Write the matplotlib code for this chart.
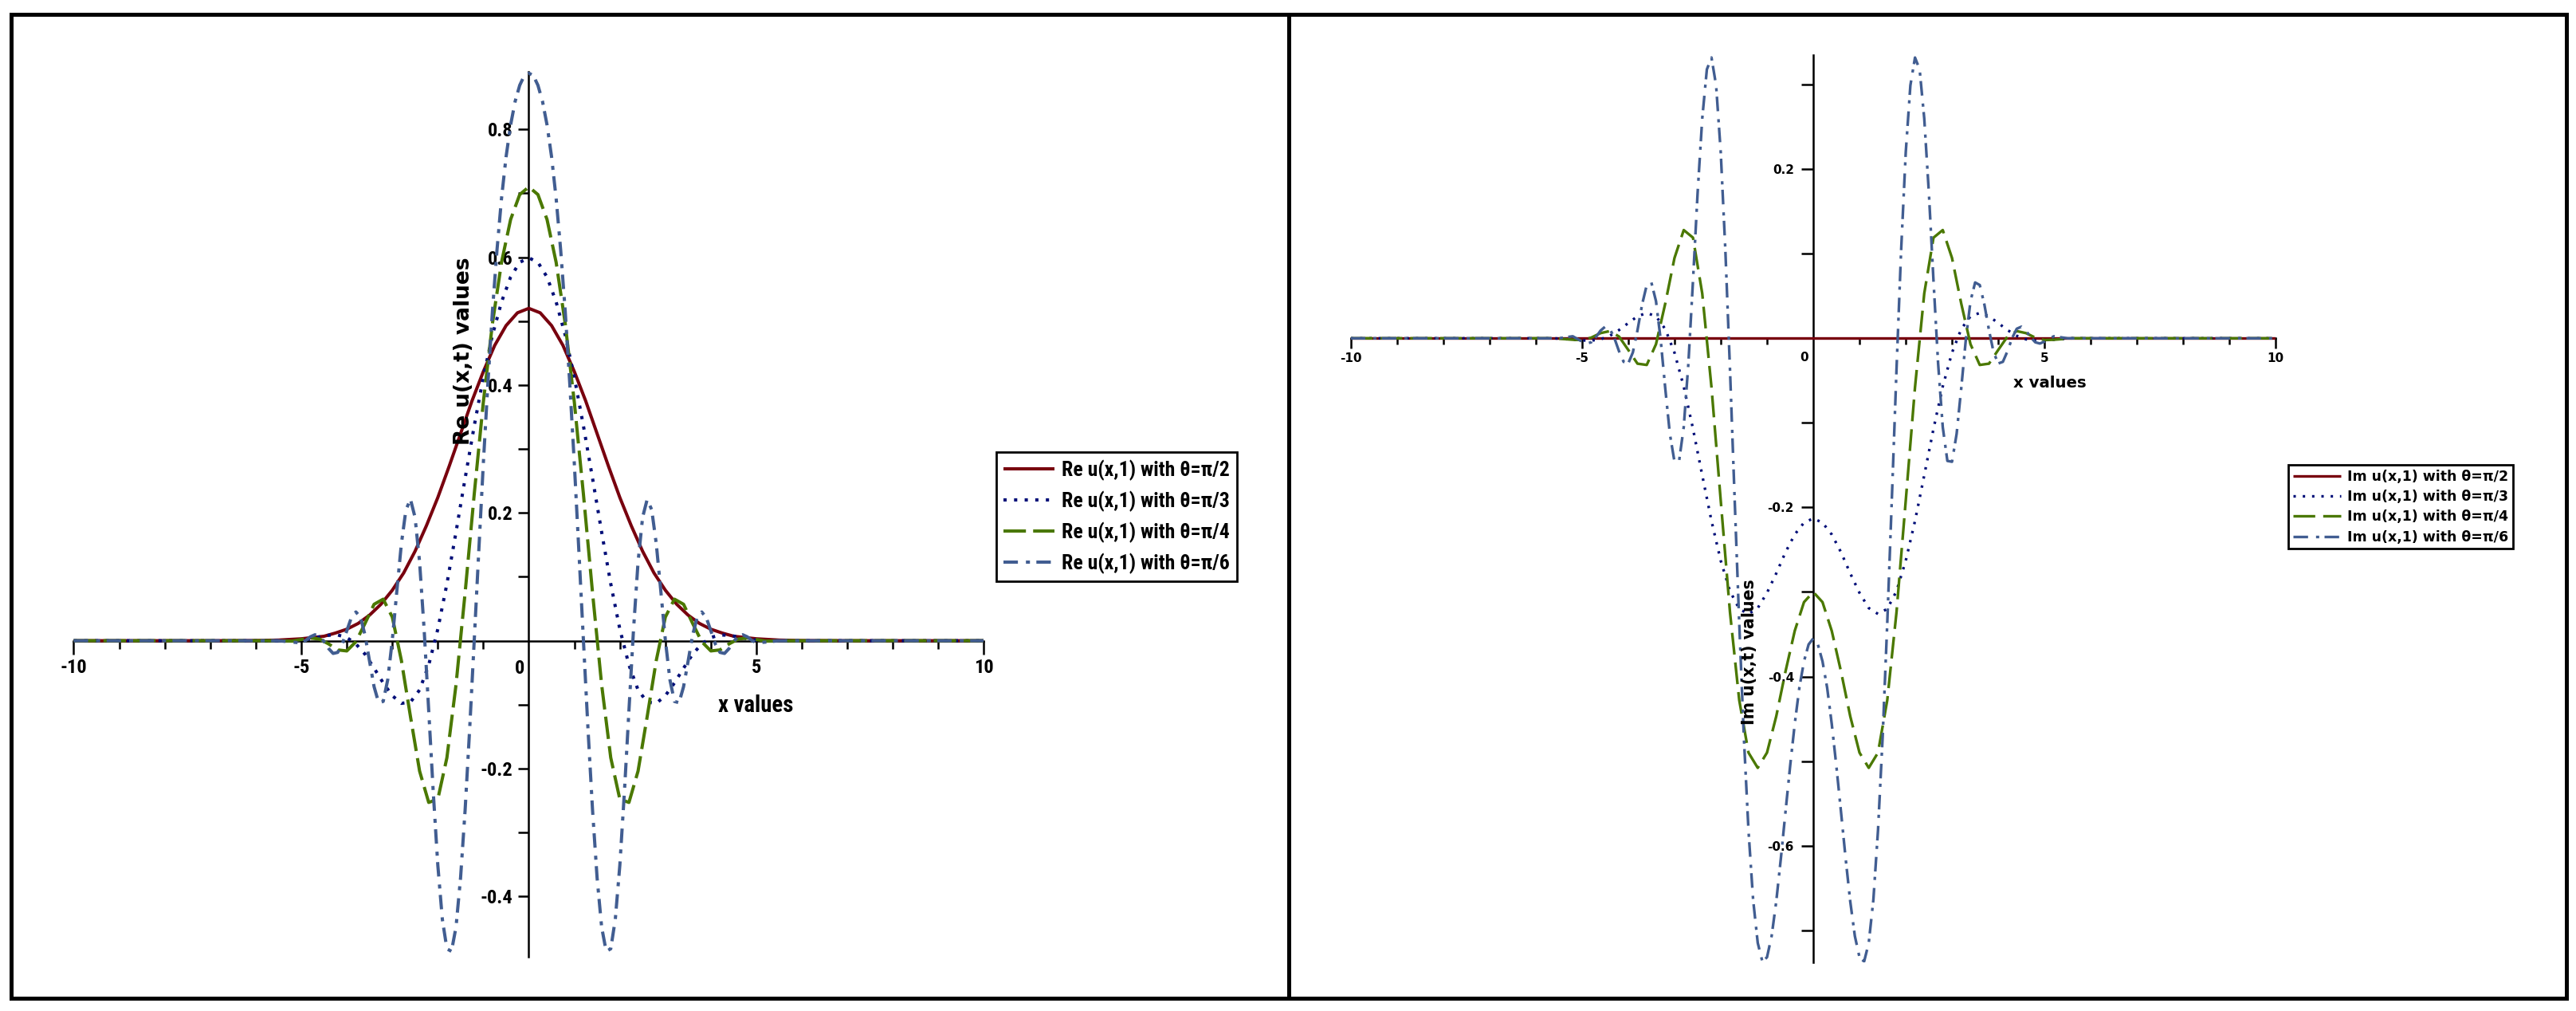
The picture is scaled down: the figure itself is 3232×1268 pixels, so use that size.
import numpy as np
import matplotlib
matplotlib.use("Agg")
import matplotlib.pyplot as plt
from matplotlib.patches import Rectangle
from matplotlib import font_manager

# values for x >= 0 (both panels are symmetric in x)
x_pi2 = [0, 0.25, 0.5, 0.75, 1.0, 1.25, 1.5, 1.75, 2.0, 2.25, 2.5, 2.75, 3.0,
         3.25, 3.5, 3.75, 4.0, 4.25, 4.5, 4.75, 5.0, 5.5, 6.0, 7.0, 10.0]
re_pi2 = [0.520, 0.513, 0.493, 0.462, 0.421, 0.375, 0.324, 0.273, 0.224, 0.180,
          0.140, 0.106, 0.079, 0.057, 0.040, 0.027, 0.018, 0.012, 0.007, 0.005,
          0.003, 0.001, 0.0003, 0.0, 0.0]
im_pi2 = [0.0] * len(x_pi2)

x_mid = [0, 0.2, 0.4, 0.6, 0.8, 1.0, 1.2, 1.4, 1.6, 1.8, 2.0, 2.2, 2.4, 2.6, 2.8,
         3.0, 3.2, 3.4, 3.6, 3.8, 4.0, 4.2, 4.4, 4.6, 4.8, 5.0, 5.2, 5.6, 6.0, 10.0]
re_pi3 = [0.599, 0.592, 0.569, 0.530, 0.478, 0.412, 0.336, 0.254, 0.170, 0.089,
          0.018, -0.038, -0.077, -0.096, -0.098, -0.086, -0.066, -0.043, -0.021,
          -0.005, 0.005, 0.009, 0.0085, 0.006, 0.003, 0.0007, -0.0005, 0.0, 0.0, 0.0]
im_pi3 = [-0.213, -0.218, -0.232, -0.253, -0.278, -0.301, -0.319, -0.326, -0.320,
          -0.299, -0.263, -0.216, -0.162, -0.107, -0.057, -0.017, 0.011, 0.026,
          0.030, 0.026, 0.018, 0.0097, 0.0029, -0.0012, -0.0027, -0.0025, -0.0016,
          0.0, 0.0, 0.0]
re_pi4 = [0.710, 0.698, 0.659, 0.592, 0.496, 0.373, 0.229, 0.075, -0.069, -0.183,
          -0.248, -0.253, -0.204, -0.119, -0.031, 0.037, 0.065, 0.057, 0.027,
          -0.0016, -0.016, -0.0144, -0.005, 0.0026, 0.0042, 0.0019, -0.0006,
          0.0, 0.0, 0.0]
im_pi4 = [-0.300, -0.312, -0.346, -0.394, -0.447, -0.490, -0.508, -0.490, -0.428,
          -0.324, -0.192, -0.058, 0.053, 0.119, 0.128, 0.095, 0.041, -0.007,
          -0.0315, -0.030, -0.0137, 0.0021, 0.0085, 0.0061, 0.0008, -0.0021,
          -0.0017, 0.0, 0.0, 0.0]

x_pi6 = [0, 0.1, 0.2, 0.3, 0.4, 0.5, 0.6, 0.7, 0.8, 0.9, 1.0, 1.1, 1.2, 1.3, 1.4,
         1.5, 1.6, 1.7, 1.8, 1.9, 2.0, 2.1, 2.2, 2.3, 2.4, 2.5, 2.6, 2.7, 2.8, 2.9,
         3.0, 3.1, 3.2, 3.3, 3.4, 3.5, 3.6, 3.7, 3.8, 3.9, 4.0, 4.1, 4.2, 4.3, 4.4,
         4.5, 4.6, 4.7, 4.8, 4.9, 5.0, 5.2, 5.5, 6.0, 10.0]
re_pi6 = [0.888, 0.884, 0.869, 0.844, 0.807, 0.757, 0.692, 0.611, 0.515, 0.402,
          0.277, 0.140, 0.000, -0.138, -0.265, -0.371, -0.448, -0.486, -0.482,
          -0.436, -0.351, -0.237, -0.109, 0.017, 0.123, 0.193, 0.221, 0.205, 0.152,
          0.078, 0.001, -0.061, -0.095, -0.097, -0.072, -0.032, 0.009, 0.037, 0.045,
          0.036, 0.0155, -0.0054, -0.0183, -0.0199, -0.0122, -0.0013, 0.0070,
          0.0093, 0.0061, 0.0005, -0.0033, -0.0022, 0.0, 0.0, 0.0]
im_pi6 = [-0.355, -0.362, -0.382, -0.413, -0.456, -0.506, -0.560, -0.615, -0.666,
          -0.707, -0.732, -0.737, -0.715, -0.664, -0.582, -0.472, -0.337, -0.189,
          -0.037, 0.104, 0.220, 0.299, 0.332, 0.318, 0.260, 0.172, 0.068, -0.030,
          -0.105, -0.145, -0.146, -0.113, -0.059, -0.001, 0.044, 0.066, 0.063,
          0.040, 0.0095, -0.0167, -0.0298, -0.0278, -0.0152, 0.0003, 0.0113,
          0.0137, 0.0090, 0.0013, -0.0047, -0.0062, -0.0039, 0.0024, 0.0, 0.0, 0.0]

thetas = ["π/2", "π/3", "π/4", "π/6"]
colors = ["#78000E", "#000E78", "#4A7800", "#415D91"]

x_major = [-10, -5, 5, 10]
x_major_labels = ["-10", "-5", "5", "10"]
x_minor = [-9, -8, -7, -6, -4, -3, -2, -1, 1, 2, 3, 4, 6, 7, 8, 9]
re_major = [-0.4, -0.2, 0.2, 0.4, 0.6, 0.8]
re_major_labels = ["-0.4", "-0.2", "0.2", "0.4", "0.6", "0.8"]
re_minor = [-0.3, -0.1, 0.1, 0.3, 0.5, 0.7]
im_major = [-0.6, -0.4, -0.2, 0.2]
im_major_labels = ["-0.6", "-0.4", "-0.2", "0.2"]
im_minor = [-0.7, -0.5, -0.3, -0.1, 0.1, 0.3]


def mirror(xs, ys):
    xs = np.asarray(xs, float)
    ys = np.asarray(ys, float)
    return (np.concatenate([-xs[::-1], xs[1:]]),
            np.concatenate([ys[::-1], ys[1:]]))


def narrow_font():
    # the left panel uses a squeezed sans; take the narrowest face available
    fonts = [(f.name, f.stretch) for f in font_manager.fontManager.ttflist]
    names = {n for n, s in fonts}
    for nm, k in (("Liberation Sans Narrow", 1.0), ("Roboto Condensed", 0.95),
                  ("Open Sans Condensed", 0.95)):
        if nm in names:
            return {"family": [nm, "DejaVu Sans"], "stretch": "normal"}, k
    if ("Roboto", "condensed") in fonts:
        return {"family": ["Roboto", "DejaVu Sans"], "stretch": "condensed"}, 0.95
    if ("DejaVu Sans", "condensed") in fonts:
        return {"family": ["DejaVu Sans"], "stretch": "condensed"}, 0.75
    return {"family": ["DejaVu Sans"], "stretch": "normal"}, 0.68


nf, k = narrow_font()
right_fam = ["DejaVu Sans"]

fig = plt.figure(figsize=(32.32, 12.68), dpi=100)

# panel frames
for x0 in (14 / 3232, 1616.5 / 3232):
    fig.add_artist(Rectangle((x0, 1 - 1251.5 / 1268), 1603 / 3232, 1234 / 1268,
                             transform=fig.transFigure, fill=False,
                             lw=3.6, ec="black"))

ax1 = fig.add_axes([0.02862, 0.05331, 0.35334, 0.87563])
ax2 = fig.add_axes([0.52435, 0.04811, 0.3591, 0.89748])

left_styles = [(0, ()), (0, (1, 2.3)), (0, (7, 2.25)), (0, (4.5, 2.5, 1.25, 2))]
right_styles = [(0, ()), (0, (0.9, 2.6)), (0, (8.2, 3)), (0, (5.5, 3, 1.2, 2))]

re_series = [(x_pi2, re_pi2), (x_mid, re_pi3), (x_mid, re_pi4), (x_pi6, re_pi6)]
im_series = [(x_pi2, im_pi2), (x_mid, im_pi3), (x_mid, im_pi4), (x_pi6, im_pi6)]

for (xs, ys), th, c, ls in zip(re_series, thetas, colors, left_styles):
    xx, yy = mirror(xs, ys)
    ax1.plot(xx, yy, color=c, lw=2.9, ls=ls, zorder=3,
             label=f"Re u(x,1) with θ={th}")
for (xs, ys), th, c, ls in zip(im_series, thetas, colors, right_styles):
    xx, yy = mirror(xs, ys)
    ax2.plot(xx, yy, color=c, lw=2.4, ls=ls, zorder=3,
             label=f"Im u(x,1) with θ={th}")

ax1.set_xlim(-10, 10)
ax1.set_ylim(-0.495, 0.89)
ax2.set_xlim(-10, 10)
ax2.set_ylim(-0.738, 0.335)

for ax in (ax1, ax2):
    ax.patch.set_visible(False)
    for s in ("top", "right"):
        ax.spines[s].set_visible(False)
    for s in ("left", "bottom"):
        ax.spines[s].set_position(("data", 0))
        ax.spines[s].set_linewidth(1.8)

# left panel
ax1.set_xticks(x_major, labels=x_major_labels)
ax1.set_xticks(x_minor, minor=True)
ax1.set_yticks(re_major, labels=re_major_labels)
ax1.set_yticks(re_minor, minor=True)
ax1.tick_params(axis="x", which="major", direction="out", length=12, width=1.8, pad=4)
ax1.tick_params(axis="x", which="minor", direction="out", length=7, width=1.8)
ax1.tick_params(axis="y", which="both", direction="out", length=9.4, width=1.8, pad=5)
for lab in ax1.get_xticklabels() + ax1.get_yticklabels():
    lab.set_family(nf["family"])
    lab.set_stretch(nf["stretch"])
    lab.set_fontweight("bold")
    lab.set_fontsize(18.5 * k)
ax1.annotate("0", xy=(-0.2, 0), xytext=(0, -23), textcoords="offset pixels",
             ha="center", va="top", family=nf["family"], stretch=nf["stretch"],
             fontweight="bold", fontsize=18.5 * k)
ax1.text(4.98, -0.1015, "x values", ha="center", va="center",
         family=nf["family"], stretch=nf["stretch"], fontweight="bold",
         fontsize=21.8 * k)
ax1.text(-1.43, 0.4535, "Re u(x,t) values", rotation=90, ha="center", va="center",
         family=["DejaVu Sans"], fontweight="bold", fontsize=19)

# right panel
ax2.set_xticks(x_major, labels=x_major_labels)
ax2.set_xticks(x_minor, minor=True)
ax2.set_yticks(im_major, labels=im_major_labels)
ax2.set_yticks(im_minor, minor=True)
ax2.tick_params(axis="x", which="major", direction="out", length=9.1, width=1.8, pad=4)
ax2.tick_params(axis="x", which="minor", direction="out", length=5.5, width=1.8)
ax2.tick_params(axis="y", which="both", direction="out", length=10.8, width=1.8, pad=6.5)
for lab in ax2.get_xticklabels() + ax2.get_yticklabels():
    lab.set_family(right_fam)
    lab.set_fontweight("bold")
    lab.set_fontsize(11)
ax2.annotate("0", xy=(-0.2, 0), xytext=(0, -17), textcoords="offset pixels",
             ha="center", va="top", family=right_fam, fontweight="bold", fontsize=11)
ax2.text(5.12, -0.053, "x values", ha="center", va="center",
         family=right_fam, fontweight="bold", fontsize=14.2)
ax2.text(-1.38, -0.371, "Im u(x,t) values", rotation=90, ha="center", va="center",
         family=right_fam, fontweight="bold", fontsize=14.8)

leg1 = ax1.legend(loc="upper left", bbox_to_anchor=(1250 / 3232, 1 - 567 / 1268),
                  bbox_transform=fig.transFigure, borderaxespad=0,
                  prop={"family": nf["family"], "stretch": nf["stretch"],
                        "weight": "bold", "size": 19.5 * k},
                  handlelength=2.36 / k, handletextpad=0.33 / k, borderpad=0.36,
                  labelspacing=0.5, fancybox=False, framealpha=1,
                  edgecolor="black")
leg1.get_frame().set_linewidth(2.0)
leg2 = ax2.legend(loc="upper left", bbox_to_anchor=(2871 / 3232, 1 - 583 / 1268),
                  bbox_transform=fig.transFigure, borderaxespad=0,
                  prop={"family": right_fam, "weight": "bold", "size": 12.5},
                  handlelength=3.5, handletextpad=0.46, borderpad=0.33,
                  labelspacing=0.42, fancybox=False, framealpha=1, edgecolor="black")
leg2.get_frame().set_linewidth(2.0)

fig.savefig("out.png", dpi=100)
